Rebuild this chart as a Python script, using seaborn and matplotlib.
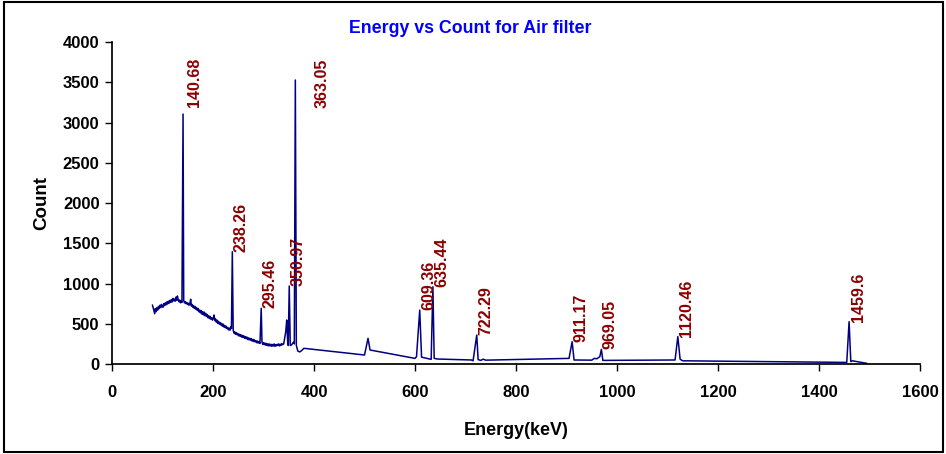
import matplotlib
import pandas as pd
import seaborn as sns

matplotlib.use("Agg")
import matplotlib.pyplot as plt
from matplotlib.patches import Rectangle

# Gamma spectrum (keV, counts)
energy = [
    80, 81.5, 83, 84.5, 86, 87.5, 89, 90.5, 92, 93.5,
    95, 96.5, 98, 99.5, 101, 102.5, 104, 105.5, 107, 108.5,
    110, 111.5, 113, 114.5, 116, 117.5, 119, 120.5, 122, 123.5,
    125, 126.5, 128, 129.5, 131, 132.5, 134, 135.5, 137, 138.5,
    140.68, 142, 143.5, 145, 146.5, 148, 149.5, 151, 152.5, 154,
    155.8, 157, 158.5, 160, 161.5, 163, 164.5, 166, 167.5, 169,
    170.5, 172, 173.5, 175, 176.5, 178, 179.5, 181, 182.5, 184,
    185.5, 187, 188.5, 190, 191.5, 193, 194.5, 196, 197.5, 199,
    200.5, 202, 203.5, 205, 206.5, 208, 209.5, 211, 212.5, 214,
    215.5, 217, 218.5, 220, 221.5, 223, 224.5, 226, 227.5, 229,
    230.5, 232, 233.5, 235, 236.5, 238.26, 240, 241.5, 243, 244.5,
    246, 247.5, 249, 250.5, 252, 253.5, 255, 256.5, 258, 259.5,
    261, 262.5, 264, 265.5, 267, 268.5, 270, 271.5, 273, 274.5,
    276, 277.5, 279, 280.5, 282, 283.5, 285, 286.5, 288, 289.5,
    291, 293, 295.46, 297, 298.5, 300, 301.5, 303, 304.5, 306,
    307.5, 309, 310.5, 312, 313.5, 315, 316.5, 318, 319.5, 321,
    322.5, 324, 325.5, 327, 328.5, 330, 331.5, 333, 334.5, 336,
    338, 340, 344, 346, 348, 349, 350.97, 353, 356, 359,
    361, 363.05, 365, 368, 372, 376, 380, 500, 507, 511,
    600, 603, 609.36, 613, 632, 635.44, 638, 645, 712, 715,
    722.29, 725, 730, 735, 740, 905, 911.17, 915, 950, 955,
    960, 966, 969.05, 972, 1115, 1120.46, 1125, 1130, 1455, 1459.6,
    1463, 1466, 1495,
]
counts = [
    733, 700, 660, 625, 690, 650, 700, 670, 715, 690,
    730, 700, 740, 715, 705, 750, 725, 760, 735, 770,
    745, 780, 755, 790, 765, 800, 770, 815, 785, 805,
    780, 830, 790, 845, 800, 775, 795, 760, 785, 765,
    3105, 790, 760, 775, 750, 765, 740, 755, 730, 745,
    805, 720, 740, 705, 725, 690, 715, 680, 700, 665,
    690, 650, 670, 635, 665, 620, 650, 610, 645, 600,
    630, 590, 615, 575, 600, 565, 590, 555, 575, 545,
    570, 609, 540, 560, 520, 545, 505, 530, 495, 515,
    485, 505, 470, 495, 460, 480, 450, 470, 440, 455,
    425, 445, 420, 460, 440, 1395, 420, 385, 400, 370,
    390, 365, 380, 350, 370, 345, 365, 335, 355, 330,
    350, 320, 340, 315, 335, 305, 325, 300, 320, 295,
    315, 285, 305, 280, 300, 275, 290, 265, 285, 260,
    280, 255, 692, 275, 245, 265, 240, 260, 235, 255,
    230, 250, 225, 248, 225, 245, 220, 242, 225, 250,
    220, 240, 225, 245, 230, 250, 225, 245, 230, 255,
    240, 250, 400, 547, 250, 230, 969, 230, 240, 270,
    250, 3528, 230, 160, 150, 170, 195, 112, 319, 174,
    70, 91, 670, 85, 58, 960, 70, 62, 50, 40,
    360, 55, 45, 60, 48, 70, 277, 50, 48, 70,
    65, 91, 182, 45, 50, 340, 60, 40, 20, 526,
    30, 40, 8,
]

peak_labels = ["140.68", "238.26", "295.46", "350.97", "363.05", "609.36", "635.44",
               "722.29", "911.17", "969.05", "1120.46", "1459.6"]
peak_energy = [140.68, 238.26, 295.46, 350.97, 363.05, 609.36, 635.44,
               722.29, 911.17, 969.05, 1120.46, 1459.6]
peak_counts = [3105, 1395, 692, 969, 3528, 670, 960, 360, 277, 182, 340, 526]

# label offsets in points (dx, dy) relative to the peak tip
label_offsets = {"140.68": (8, 5), "363.05": (19, -20)}

spectrum_df = pd.DataFrame({"Energy": energy, "Count": counts})

sns.set_theme(style="ticks")
plt.rcParams["font.family"] = ["Liberation Sans", "DejaVu Sans"]
plt.rcParams["text.color"] = "black"
plt.rcParams["axes.labelcolor"] = "black"

fig = plt.figure(figsize=(9.46, 4.54), dpi=100)
ax = fig.add_axes([0.1184, 0.1982, 0.8541, 0.7093])

sns.lineplot(
    data=spectrum_df,
    x="Energy",
    y="Count",
    sort=False,
    estimator=None,
    color="#000080",
    linewidth=1.1,
    ax=ax,
)

for label, e, c in zip(peak_labels, peak_energy, peak_counts):
    dx, dy = label_offsets.get(label, (6.5, 0))
    ax.annotate(
        label,
        (e, c),
        xytext=(dx, dy),
        textcoords="offset points",
        rotation=90,
        ha="center",
        va="bottom",
        fontsize=11.5,
        fontweight="bold",
        color="#8B0000",
    )

ax.set_xlim(0, 1600)
ax.set_ylim(0, 4000)
ax.set_xticks(range(0, 1601, 200))
ax.set_yticks(range(0, 4001, 500))
ax.tick_params(axis="both", direction="out", length=5, width=1, colors="black",
               labelsize=12)
ax.tick_params(axis="x", pad=10)
ax.tick_params(axis="y", pad=4)
for t in ax.get_xticklabels() + ax.get_yticklabels():
    t.set_fontweight("bold")
sns.despine(ax=ax)
ax.spines["left"].set_color("black")
ax.spines["bottom"].set_color("black")

ax.set_xlabel("Energy(keV)", fontsize=13, fontweight="bold", labelpad=16)
ax.set_ylabel("Count", fontsize=13.5, fontweight="bold", labelpad=9)

fig.text(0.497, 0.938, "Energy vs Count for Air filter", ha="center", va="center",
         fontsize=12.8, fontweight="bold", color="#0000FF")

# outer chart border
fig.patches.append(Rectangle((0.004, 0.005), 0.993, 0.99, transform=fig.transFigure,
                             fill=False, edgecolor="black", linewidth=1.5))

plt.savefig("out.png", dpi=100)
plt.close(fig)
